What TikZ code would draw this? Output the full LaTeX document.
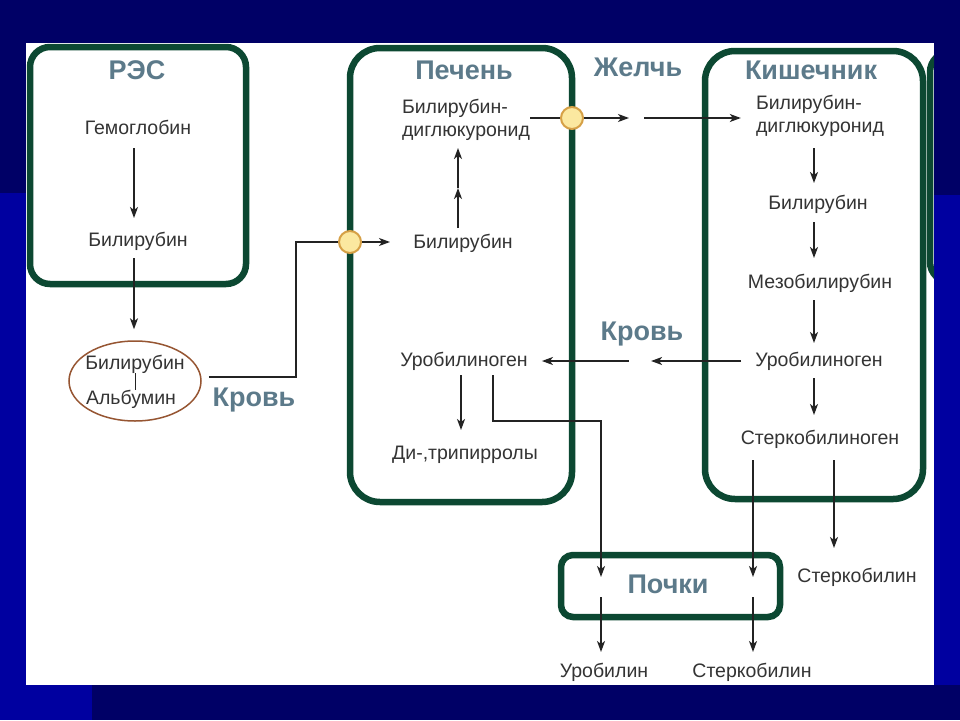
\documentclass[tikz,border=0pt]{standalone}
\usepackage{fontspec}
\setmainfont{Liberation Sans}
\usetikzlibrary{arrows.meta,shapes.geometric,calc}
\definecolor{navy}{RGB}{0,0,102}
\definecolor{lblue}{RGB}{0,0,160}
\definecolor{boxgreen}{RGB}{12,72,50}
\definecolor{titlec}{RGB}{92,122,138}
\definecolor{txtc}{RGB}{52,52,52}
\definecolor{dotfill}{RGB}{251,232,160}
\definecolor{dotline}{RGB}{214,160,70}
\definecolor{ellc}{RGB}{150,85,50}
\definecolor{arrc}{RGB}{35,35,35}
\begin{document}
\begin{tikzpicture}[x=1pt,y=-1pt,
  lbl/.style={text=txtc,font=\fontsize{19.5}{23}\selectfont,inner sep=0pt},
  lbl2/.style={lbl,align=left},
  ttl/.style={text=titlec,font=\fontsize{27}{30}\selectfont\bfseries,inner sep=0pt},
  organ/.style={draw=boxgreen,line width=6.5pt},
  ln/.style={draw=arrc,line width=1.5pt},
  arr/.style={ln,-{Stealth[length=11pt,width=8pt,inset=3pt]}},
  dot/.style={circle,draw=dotline,fill=dotfill,line width=2pt,minimum size=22pt,inner sep=0pt}]
% background
\fill[navy] (0,0) rectangle (960,720);
\fill[lblue] (0,193) rectangle (26,685);
\fill[lblue] (0,685) rectangle (92,720);
\fill[lblue] (934,195) rectangle (960,685);
\fill[white] (26,43) rectangle (934,685);
\useasboundingbox (0,0) rectangle (960,720);
% organ boxes
\draw[organ,rounded corners=20pt] (30,47) rectangle (246,284);
\draw[organ,rounded corners=30pt] (350,48) rectangle (572,502);
\draw[organ,rounded corners=30pt] (705,51) rectangle (923,499);
\draw[organ,rounded corners=12pt] (561,555) rectangle (780,617);
\begin{scope}
  \clip (26,43) rectangle (934,685);
  \draw[organ,rounded corners=20pt] (930,52) rectangle (1010,282);
\end{scope}
% titles
\node[ttl] (tres) at (137,70) {РЭС};
\node[ttl] (tliv) at (464,70) {Печень};
\node[ttl] (tbile) at (638,67) {Желчь};
\node[ttl] (tint) at (811,70) {Кишечник};
\node[ttl] (tblood1) at (254,400) {Кровь};
\node[ttl] (tblood2) at (642,334) {Кровь};
\node[ttl] (tkid) at (668,584) {Почки};
% RES column
\node[lbl] (hem) at (138,127) {Гемоглобин};
\node[lbl] (bil1) at (138,241) {Билирубин};
\node[draw=ellc,line width=1.5pt,ellipse,minimum width=132pt,minimum height=80pt] (ell) at (135,381) {};
\node[lbl] (bila) at (135,364) {Билирубин};
\node[lbl] (alb) at (131,399) {Альбумин};
% liver column
\node[lbl2] (glu1) at (466,120) {Билирубин-\\диглюкуронид};
\node[lbl] (bil2) at (463,243) {Билирубин};
\node[lbl] (uro1) at (464,361) {Уробилиноген};
\node[lbl] (ditri) at (465,455) {Ди-,трипирролы};
% intestine column
\node[lbl2] (glu2) at (820,116) {Билирубин-\\диглюкуронид};
\node[lbl] (bil3) at (818,204) {Билирубин};
\node[lbl] (meso) at (820,283) {Мезобилирубин};
\node[lbl] (uro2) at (819,361) {Уробилиноген};
\node[lbl] (sgen) at (820,439) {Стеркобилиноген};
% outputs
\node[lbl] (sterk2) at (857,577) {Стеркобилин};
\node[lbl] (urob) at (604,672) {Уробилин};
\node[lbl] (sterk1) at (752,672) {Стеркобилин};
% connectors RES
\draw[arr] ($(hem)+(-4,21)$) -- ($(bil1)+(-4,-23)$);
\draw[arr] ($(bil1)+(-4,17)$) -- ($(ell.north)+(-1,-11)$);
\draw[ln,line width=1pt] ($(bila)+(0,9)$) -- ($(alb)+(4,-9)$);
\node[dot] (dot1) at (350,242) {};
\node[dot] (dot2) at (572,118) {};
\draw[ln] ($(ell.east)+(7,-4)$) -- ++(87,0) |- (dot1.west);
\draw[arr] (dot1.east) -- ++(28,0);
% liver
\draw[arr] ($(bil2)+(-5,-15)$) -- ($(bil2)+(-5,-55)$);
\draw[arr] ($(bil2)+(-5,-55)$) -- ($(bil2)+(-5,-95)$);
\draw[ln] (glu1.east |- dot2) -- (dot2.west);
\draw[arr] (dot2.east) -- ++(45,0);
\coordinate (bilegap) at (644,118);
\draw[arr] (bilegap) -- ($(glu2.west |- dot2)+(-15,0)$);
\draw[arr] ($(uro1)+(-3,14)$) -- ($(ditri)+(-4,-25)$);
\draw[arr] ($(uro1)+(29,14)$) -- ++(0,46) -| ($(urob)+(-3,-95)$);
\draw[arr] ($(urob)+(-3,-75)$) -- ($(urob)+(-3,-20)$);
% blood return
\draw[arr] ($(uro2.west)+(-14,0)$) -- ++(-90,0);
\draw[arr] ($(uro1.east)+(101,0)$) -- ($(uro1.east)+(14,0)$);
% intestine
\draw[arr] ($(bil3)+(-4,-56)$) -- ($(bil3)+(-4,-21)$);
\draw[arr] ($(bil3)+(-4,18)$) -- ($(meso)+(-6,-25)$);
\draw[arr] ($(meso)+(-6,17)$) -- ($(uro2)+(-5,-18)$);
\draw[arr] ($(uro2)+(-5,17)$) -- ($(sgen)+(-6,-24)$);
\draw[arr] ($(sgen)+(-67,21)$) -- ($(sterk1)+(1,-95)$);
\draw[arr] ($(sterk1)+(1,-75)$) -- ($(sterk1)+(1,-20)$);
\draw[arr] ($(sgen)+(14,21)$) -- ($(sterk2)+(-23,-29)$);
\end{tikzpicture}
\end{document}
